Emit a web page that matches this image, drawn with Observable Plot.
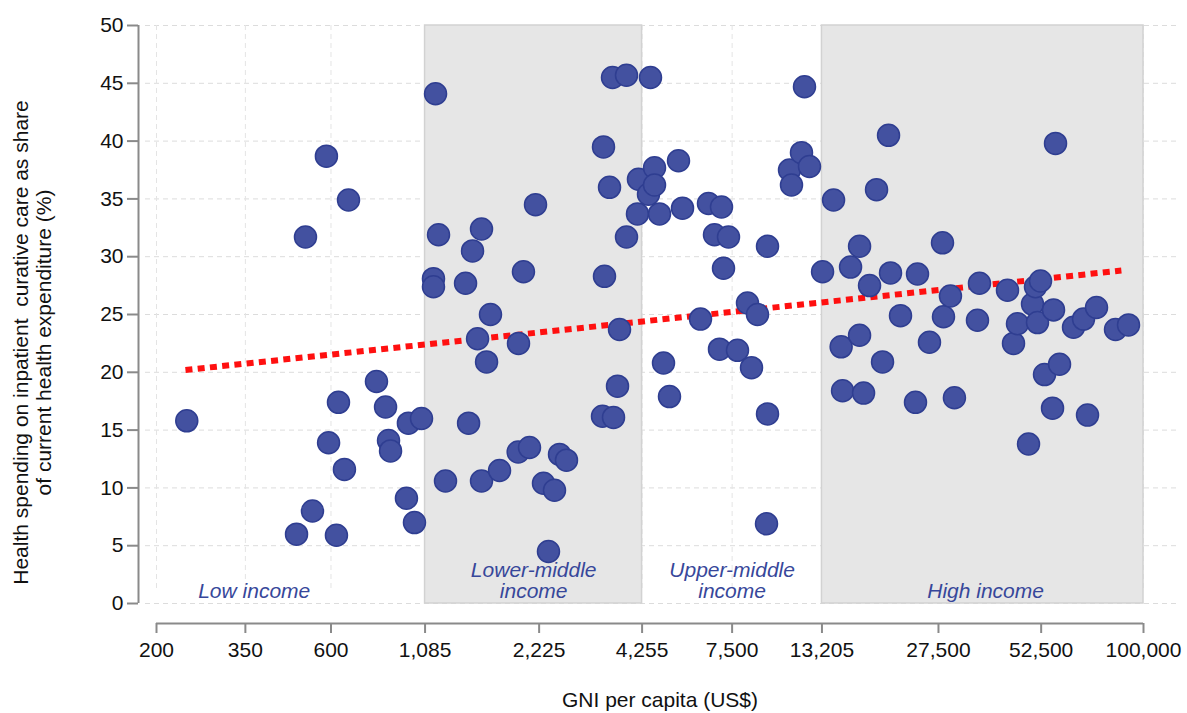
<!DOCTYPE html>
<html>
<head>
<meta charset="utf-8">
<script src="https://cdn.jsdelivr.net/npm/d3@7"></script>
<script src="https://cdn.jsdelivr.net/npm/@observablehq/plot@0.6"></script>
<style>
  html, body { margin: 0; padding: 0; background: #fff; }
  #chart svg { display: block; }
</style>
</head>
<body>
<div id="chart"></div>
<script>
// GNI per capita (US$) for each country point
const gni = [
  242, 483, 511, 534, 583, 591, 621, 629, 653, 670, 799, 846, 862, 873, 965, 977, 1015, 1061,
  1144, 1144, 1159, 1181, 1234, 1400, 1427, 1463, 1510, 1548, 1548, 1598, 1638, 1734, 1954, 1950,
  2016, 2094, 2175, 2287, 2360, 2451, 2530, 2643, 3316, 3337, 3358, 3466, 3532, 3554, 3645, 3691,
  3857, 3857, 4133, 4159,
  4430, 4486, 4601, 4601, 4748, 4869, 5056, 5351, 5488, 6146, 6463, 6712, 6927, 7015, 7104, 7331,
  7758, 8263, 8474, 8800, 9372, 9372, 9313, 10765, 10900, 11608, 11830, 12208, 13255,
  14205, 14900, 15033, 15810, 16732, 16732, 17159, 17818, 18620, 19336, 20081, 20333, 21653, 23797,
  24100, 25986, 28207, 28383, 29654, 30408, 35157, 35605, 42470, 44108, 45228, 48481, 49713, 50661,
  51306, 52285, 53620, 56395, 56750, 57468, 58935, 64361, 68549, 70294, 74386, 83848, 90994
];
// Inpatient curative care share of current health expenditure (%)
const share = [
  15.8, 6.0, 31.7, 8.0, 38.7, 13.9, 5.9, 17.4, 11.6, 34.9, 19.2, 17.0, 14.1, 13.2, 9.1, 15.6, 7.0, 16.0,
  28.1, 27.4, 44.1, 31.9, 10.6, 27.7, 15.6, 30.5, 22.9, 32.4, 10.6, 20.9, 25.0, 11.5, 22.5, 13.1,
  28.7, 13.5, 34.5, 10.4, 4.5, 9.8, 12.9, 12.4, 16.2, 39.5, 28.3, 36.0, 45.5, 16.1, 18.8, 23.7,
  45.7, 31.7, 33.7, 36.7,
  35.4, 45.5, 37.7, 36.2, 33.7, 20.8, 17.9, 38.3, 34.2, 24.6, 34.6, 31.9, 22.0, 34.3, 29.0, 31.7,
  21.9, 26.0, 20.4, 25.0, 30.9, 16.4, 6.9, 37.5, 36.2, 39.0, 44.7, 37.8, 28.7,
  34.9, 22.2, 18.4, 29.1, 30.9, 23.2, 18.2, 27.5, 35.8, 20.9, 40.5, 28.6, 24.9, 17.4,
  28.5, 22.6, 31.2, 24.8, 26.6, 17.8, 24.5, 27.7, 27.1, 22.5, 24.2, 13.8, 25.9, 27.4,
  24.3, 27.9, 19.8, 16.9, 25.4, 39.8, 20.7, 23.9, 24.6, 16.3, 25.6, 23.7, 24.1
];

// Trend line (fitted)
const trendGni = [240, 87000];
const trendShare = [20.2, 28.8];

// Income group bands (shaded)
const bandFrom = [1085, 13205];
const bandTo = [4255, 100000];

// Income group labels
const groupNames = ["Low income", "Lower-middle\nincome", "Upper-middle\nincome", "High income"];
const groupGni = [370, 2150, 7500, 37000];

// Axis ticks
const xTicks = [200, 350, 600, 1085, 2225, 4255, 7500, 13205, 27500, 52500, 100000];
const yTicks = [0, 5, 10, 15, 20, 25, 30, 35, 40, 45, 50];

const points = gni.map((g, i) => ({gni: g, share: share[i]}));
const trend = trendGni.map((g, i) => ({gni: g, share: trendShare[i]}));
const bands = bandFrom.map((f, i) => ({from: f, to: bandTo[i]}));
const groups = groupNames.map((n, i) => ({name: n, gni: groupGni[i]}));

const font = "'Liberation Sans', Arial, Helvetica, sans-serif";
const fmt = d3.format(",");

const chart = Plot.plot({
  width: 1187,
  height: 713,
  marginLeft: 156,
  marginRight: 44,
  marginTop: 25,
  marginBottom: 110,
  style: {fontFamily: font, background: "#fff", overflow: "visible"},
  x: {type: "log", domain: [200, 100000], axis: null},
  y: {domain: [0, 50], axis: null},
  marks: [
    // faint dashed grid
    Plot.ruleY(yTicks, {y: d => d, stroke: "#dcdcdc", strokeWidth: 1, strokeDasharray: "5,4", insetLeft: -11, insetRight: -37}),
    Plot.ruleX(xTicks, {x: d => d, y1: 0, y2: 50, stroke: "#e4e4e4", strokeWidth: 1, strokeDasharray: "5,4", insetTop: -15}),
    // shaded income bands
    Plot.rect(bands, {x1: "from", x2: "to", y1: 0, y2: 50, fill: "#e6e6e6", stroke: "#d2d2d2", strokeWidth: 1.5}),
    // trend line
    Plot.line(trend, {x: "gni", y: "share", stroke: "#ff1010", strokeWidth: 6, strokeDasharray: "7,5.3", strokeLinecap: "butt"}),
    // points
    Plot.dot(points, {x: "gni", y: "share", r: 11, fill: "#4351a0", stroke: "#2f3e91", strokeWidth: 1.5}),
    // group labels
    Plot.text(groups, {x: "gni", y: 0, text: "name", dy: -6, lineAnchor: "bottom", lineHeight: 1.0,
      fontStyle: "italic", fontSize: 21, fill: "#37479a"}),
    // y axis
    Plot.ruleX([200], {y1: 0, y2: 50, dx: -18, stroke: "#8a8a8a", strokeWidth: 2}),
    Plot.axisY(yTicks, {anchor: "left", dx: -18, tickSize: 11, tickPadding: 4, fontSize: 21, color: "#111", stroke: "#8a8a8a", strokeWidth: 2, label: null}),
    // x axis
    Plot.ruleY([0], {x1: 200, x2: 100000, dy: 20, stroke: "#8a8a8a", strokeWidth: 2}),
    Plot.axisX(xTicks, {anchor: "bottom", dy: 20, tickSize: 10, fontSize: 21, stroke: "#8a8a8a", strokeWidth: 2, tickFormat: () => "", label: null}),
    Plot.text(xTicks, {x: d => d, y: 0, text: d => fmt(d), dy: 39, lineAnchor: "top", fontSize: 21, fill: "#111"}),
    // axis titles
    Plot.text(["GNI per capita (US$)"], {frameAnchor: "bottom", dx: 10, dy: 97, lineAnchor: "middle", fontSize: 21, fill: "#111"}),
    Plot.text(["Health spending on inpatient  curative care as share\nof current health expenditure (%)"],
      {frameAnchor: "left", textAnchor: "middle", rotate: -90, dx: -124.5, dy: 28, lineAnchor: "middle", lineHeight: 1.1, fontSize: 21, fill: "#111"})
  ]
});
document.getElementById("chart").appendChild(chart);
</script>
</body>
</html>
